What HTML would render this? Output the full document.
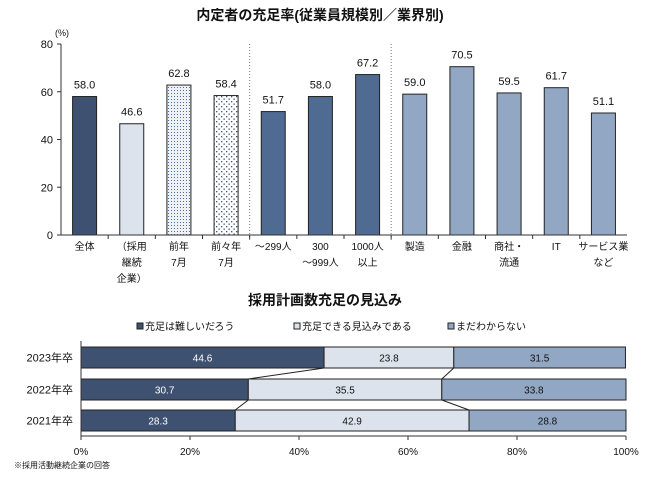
<!DOCTYPE html>
<html><head><meta charset="utf-8"><style>
body{margin:0;background:#fff;}
svg{display:block;font-family:"Liberation Sans","Noto Sans CJK JP",sans-serif;}
</style></head><body>
<svg id="c" width="650" height="480" viewBox="0 0 650 480">
<defs>
<pattern id="dots1" width="3" height="3" patternUnits="userSpaceOnUse"><rect width="3" height="3" fill="#eef2f7"/><rect width="1" height="1" fill="#4f6b92"/></pattern>
<pattern id="dots2" width="5" height="5" patternUnits="userSpaceOnUse"><rect width="5" height="5" fill="#fff"/><rect x="1" y="1" width="1.3" height="1.3" fill="#3e5170"/><rect x="3.5" y="3.5" width="1.3" height="1.3" fill="#3e5170"/></pattern>
</defs>
<text x="320" y="20" text-anchor="middle" font-size="14" font-weight="bold" fill="#111">内定者の充足率(従業員規模別／業界別)</text>
<text x="55" y="36" font-size="9" fill="#111">(%)</text>
<g id="topchart"></g>
<text x="325" y="305" text-anchor="middle" font-size="14" font-weight="bold" fill="#111">採用計画数充足の見込み</text>
<g id="legend"></g>
<g id="botchart"></g>
<text x="14" y="468" font-size="8" fill="#111">※採用活動継続企業の回答</text>
</svg>
<script>
const NS="http://www.w3.org/2000/svg";
const categories=[["全体"],["（採用","継続","企業）"],["前年","7月"],["前々年","7月"],["～299人"],["300","～999人"],["1000人","以上"],["製造"],["金融"],["商社・","流通"],["IT"],["サービス業","など"]];
const values=[58.0,46.6,62.8,58.4,51.7,58.0,67.2,59.0,70.5,59.5,61.7,51.1];
const fills=["#3e5170","#dce3ec","url(#dots1)","url(#dots2)","#4f6b92","#4f6b92","#4f6b92","#92a7c4","#92a7c4","#92a7c4","#92a7c4","#92a7c4"];
const yTicks=[0,20,40,60,80];
const years=["2023年卒","2022年卒","2021年卒"];
const sHard=[44.6,30.7,28.3];
const sOk=[23.8,35.5,42.9];
const sUnknown=[31.5,33.8,28.8];
const seriesNames=["充足は難しいだろう","充足できる見込みである","まだわからない"];
const seriesColors=["#3e5170","#dce3ec","#92a7c4"];
const xTicks=[0,20,40,60,80,100];
function mk(t,a,p,txt){const e=document.createElementNS(NS,t);for(const k in a)e.setAttribute(k,a[k]);if(txt!==undefined)e.textContent=txt;p.appendChild(e);return e;}
const topG=document.getElementById('topchart');
const X0=61,X1=627,Y0=235,Y80=44;
const yS=v=>Y0-(v/80)*(Y0-Y80);
const bw=(X1-X0)/categories.length;
yTicks.forEach(t=>{
 const l=mk('line',{x1:X0-4,x2:X0,y1:yS(t),y2:yS(t),stroke:'#333'},topG);
 
 
 const tx=mk('text',{x:X0-8,y:yS(t)+4,'text-anchor':'end','font-size':11,fill:'#111'},topG,t);
 
 
});
[4,7].forEach(i=>{const l=mk('line',{x1:X0+i*bw,x2:X0+i*bw,y1:44,y2:240,stroke:'#777','stroke-dasharray':'1,2'},topG);
 
 });
values.forEach((v,i)=>{
 const cx=X0+bw*(i+0.5);
 const r=mk('rect',{x:cx-12,y:yS(v),width:24,height:Y0-yS(v),fill:fills[i],stroke:'#222','stroke-width':1},topG);
 
 
 const t=mk('text',{x:cx,y:yS(v)-8,'text-anchor':'middle','font-size':11,fill:'#111'},topG,v.toFixed(1));
 
 
 categories[i].forEach((s,j)=>{const c=mk('text',{x:cx,y:250+j*16,'text-anchor':'middle','font-size':10,fill:'#111'},topG,s);
  
  });
 if(i>0){const tk=mk('line',{x1:X0+bw*i,x2:X0+bw*i,y1:Y0,y2:Y0+4,stroke:'#333'},topG);
  
  }
});
const ax=mk('line',{x1:X0,x2:X0,y1:Y80,y2:Y0,stroke:'#333'},topG);


const bx=mk('line',{x1:X0,x2:X1,y1:Y0,y2:Y0,stroke:'#333'},topG);


const lg=document.getElementById('legend');
[137,294,448].forEach((lx,i)=>{
 const r=mk('rect',{x:lx,y:323,width:6,height:6,fill:seriesColors[i],stroke:'#222'},lg);
 
 
 const t=mk('text',{x:lx+8,y:330,'font-size':10,fill:'#111'},lg,seriesNames[i]);
 
 
});
const botG=document.getElementById('botchart');
const PX0=81,PX1=626,AY=436;
const px=p=>PX0+(p/100)*(PX1-PX0);
const rowY=[347,379,410],rh=21;
const series=[sHard,sOk,sUnknown];
const bounds=years.map((_,r)=>{const b=[0];let s=0;series.forEach(a=>{s+=a[r];b.push(s);});return b;});
for(let r=0;r<years.length-1;r++){[1,2].forEach(k=>{const l=mk('line',{x1:px(bounds[r][k]),y1:rowY[r]+rh,x2:px(bounds[r+1][k]),y2:rowY[r+1],stroke:'#222'},botG);
 
 });}
years.forEach((yr,r)=>{
 const t=mk('text',{x:73,y:rowY[r]+rh/2+4,'text-anchor':'end','font-size':11,fill:'#111'},botG,yr);
 
 
 series.forEach((a,k)=>{
  const x1=px(bounds[r][k]),x2=px(bounds[r][k+1]);
  const re=mk('rect',{x:x1,y:rowY[r],width:x2-x1,height:rh,fill:seriesColors[k],stroke:'#222'},botG);
  
  
  const tv=mk('text',{x:(x1+x2)/2,y:rowY[r]+rh/2+4,'text-anchor':'middle','font-size':10,fill:k===0?'#fff':'#111'},botG,a[r].toFixed(1));
  
  
 });
});
xTicks.forEach(t=>{
 const l=mk('line',{x1:px(t),x2:px(t),y1:AY,y2:AY+4,stroke:'#333'},botG);
 
 
 const tx=mk('text',{x:px(t),y:455,'text-anchor':'middle','font-size':10,fill:'#111'},botG,t+'%');
 
 
});
const a1=mk('line',{x1:PX0,x2:PX1,y1:AY,y2:AY,stroke:'#333'},botG);


const a2=mk('line',{x1:PX0,x2:PX0,y1:341,y2:AY,stroke:'#333'},botG);


</script>
</body></html>
